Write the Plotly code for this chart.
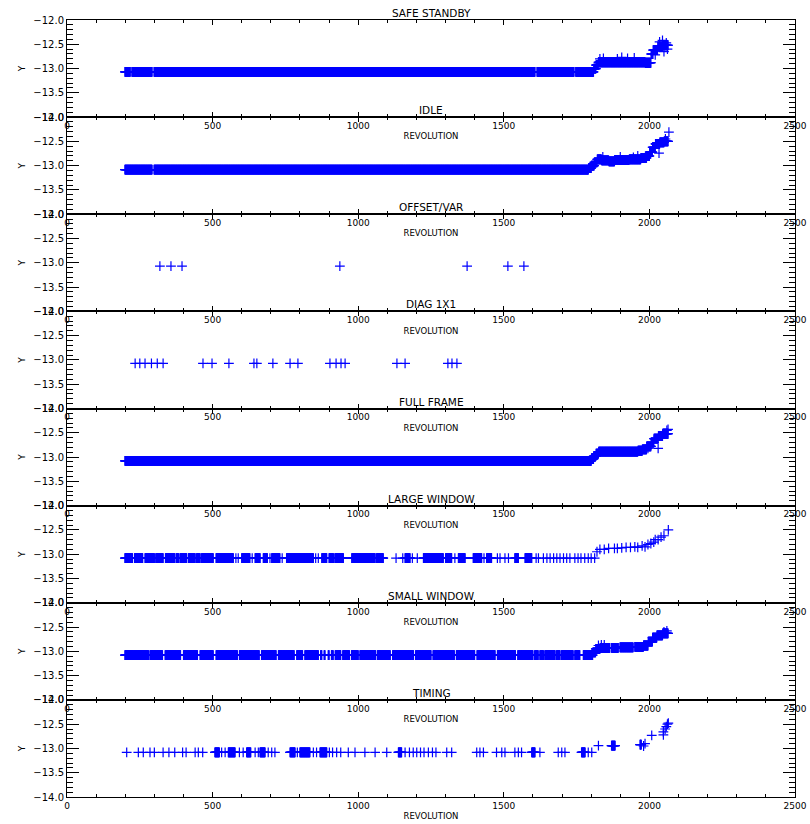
import plotly.graph_objects as go
from plotly.subplots import make_subplots

# ---------------- data (revolution runs: start, end, Y level) ----------------
TITLES = ["SAFE STANDBY", "IDLE", "OFFSET/VAR", "DIAG 1X1",
          "FULL FRAME", "LARGE WINDOW", "SMALL WINDOW", "TIMING"]
X_TICKS = [0, 500, 1000, 1500, 2000, 2500]
Y_TICKS = [-14.0, -13.5, -13.0, -12.5, -12.0]

SAFE_RUNS = [(199, 217, -13.07), (223, 292, -13.07), (299, 1607, -13.07), (1614, 1741, -13.07),
             (1747, 1808, -13.07), (1809, 1816, -13.0), (1817, 1824, -12.93), (1825, 1985, -12.87),
             (1986, 2005, -12.88), (2006, 2012, -12.7), (2013, 2028, -12.62), (2029, 2045, -12.55),
             (2046, 2064, -12.52)]
SAFE_EX_X = [1830, 1842, 1890, 1905, 1925, 1948, 2020, 2035, 2045, 2058, 2050, 2062]
SAFE_EX_Y = [-12.8, -12.79, -12.8, -12.77, -12.79, -12.78, -12.72, -12.45, -12.42, -12.47, -12.65, -12.6]

IDLE_RUNS = [(199, 292, -13.08), (299, 1790, -13.08), (1791, 1800, -13.05), (1801, 1810, -13.0),
             (1811, 1820, -12.93), (1821, 1835, -12.87), (1836, 1860, -12.89), (1861, 1880, -12.91),
             (1881, 1930, -12.88), (1931, 1970, -12.87), (1971, 1990, -12.84), (1991, 2000, -12.8),
             (2001, 2010, -12.72), (2011, 2020, -12.62), (2021, 2035, -12.55), (2036, 2050, -12.52),
             (2051, 2064, -12.5)]
IDLE_EX_X = [2067, 2033, 1840, 1900, 1945, 1960, 2055]
IDLE_EX_Y = [-12.31, -12.74, -12.82, -12.82, -12.83, -12.8, -12.45]

OFFSET_RUNS = [(319, 319, -13.07), (357, 357, -13.07), (395, 395, -13.07), (937, 937, -13.07),
               (1374, 1374, -13.07), (1514, 1514, -13.07), (1569, 1569, -13.07)]
OFFSET_EX_X = []
OFFSET_EX_Y = []

DIAG_RUNS = [(234, 234, -13.07), (250, 250, -13.07), (268, 268, -13.07), (290, 290, -13.07),
             (310, 310, -13.07), (330, 330, -13.07), (467, 467, -13.07), (498, 498, -13.07),
             (556, 556, -13.07), (642, 642, -13.07), (652, 652, -13.07), (707, 707, -13.07),
             (766, 766, -13.07), (793, 793, -13.07), (903, 903, -13.07), (924, 924, -13.07),
             (941, 941, -13.07), (955, 955, -13.07), (1133, 1133, -13.07), (1161, 1161, -13.07),
             (1308, 1308, -13.07), (1322, 1322, -13.07), (1339, 1339, -13.07)]
DIAG_EX_X = []
DIAG_EX_Y = []

FULL_RUNS = [(199, 1800, -13.08), (1801, 1808, -13.04), (1809, 1816, -12.98), (1817, 1825, -12.93),
             (1826, 1960, -12.89), (1961, 1975, -12.87), (1976, 1990, -12.84), (1991, 2005, -12.78),
             (2006, 2015, -12.7), (2016, 2030, -12.62), (2031, 2045, -12.57), (2046, 2064, -12.52)]
FULL_EX_X = [2030, 2060, 2064, 1995]
FULL_EX_Y = [-12.82, -12.45, -12.43, -12.82]

LARGE_RUNS = [(199, 225, -13.08), (232, 260, -13.08), (268, 300, -13.08), (305, 330, -13.08),
              (338, 370, -13.08), (375, 383, -13.08), (388, 411, -13.08), (417, 440, -13.08),
              (445, 457, -13.08), (462, 502, -13.08), (512, 571, -13.08), (580, 580, -13.08),
              (588, 588, -13.08), (600, 628, -13.08), (636, 636, -13.08), (646, 663, -13.08),
              (674, 688, -13.08), (697, 697, -13.08), (703, 731, -13.08), (739, 739, -13.08),
              (754, 846, -13.08), (854, 854, -13.08), (863, 863, -13.08), (875, 892, -13.08),
              (900, 915, -13.08), (920, 949, -13.08), (978, 1058, -13.08), (1063, 1086, -13.08),
              (1130, 1130, -13.08), (1153, 1153, -13.08), (1161, 1178, -13.08), (1186, 1186, -13.08),
              (1203, 1203, -13.08), (1224, 1292, -13.08), (1300, 1321, -13.08), (1332, 1332, -13.08),
              (1344, 1367, -13.08), (1395, 1424, -13.08), (1432, 1432, -13.08), (1441, 1458, -13.08),
              (1478, 1478, -13.08), (1487, 1487, -13.08), (1504, 1504, -13.08), (1516, 1516, -13.08),
              (1538, 1550, -13.08), (1573, 1596, -13.08), (1611, 1611, -13.08), (1619, 1619, -13.08),
              (1636, 1636, -13.08), (1648, 1648, -13.08), (1659, 1659, -13.08), (1671, 1671, -13.08),
              (1682, 1682, -13.08), (1693, 1693, -13.08), (1705, 1705, -13.08), (1716, 1716, -13.08),
              (1727, 1727, -13.08), (1744, 1744, -13.08), (1755, 1755, -13.08), (1765, 1765, -13.08),
              (1778, 1778, -13.08), (1790, 1790, -13.08), (1800, 1800, -13.08), (1812, 1812, -13.08)]
LARGE_EX_X = [1820, 1830, 1845, 1860, 1880, 1890, 1905, 1920, 1935, 1950, 1960, 1975, 1985,
              1995, 2005, 2015, 2020, 2030, 2040, 2050, 2065]
LARGE_EX_Y = [-12.95, -12.9, -12.9, -12.88, -12.88, -12.88, -12.87, -12.86, -12.86, -12.85, -12.86,
              -12.83, -12.85, -12.8, -12.78, -12.75, -12.7, -12.7, -12.65, -12.62, -12.5]

SMALL_RUNS = [(199, 280, -13.08), (285, 328, -13.08), (337, 390, -13.08), (400, 448, -13.08),
              (457, 502, -13.08), (512, 585, -13.08), (592, 660, -13.08), (668, 718, -13.08),
              (726, 780, -13.08), (789, 809, -13.08), (817, 863, -13.08), (871, 875, -13.08),
              (883, 886, -13.08), (897, 900, -13.08), (908, 914, -13.08), (921, 940, -13.08),
              (947, 970, -13.08), (977, 1000, -13.08), (1006, 1060, -13.08), (1066, 1110, -13.08),
              (1118, 1190, -13.08), (1197, 1250, -13.08), (1257, 1330, -13.08), (1337, 1400, -13.08),
              (1408, 1470, -13.08), (1478, 1540, -13.08), (1548, 1600, -13.08), (1606, 1618, -13.08),
              (1624, 1636, -13.08), (1641, 1676, -13.08), (1681, 1693, -13.08), (1698, 1738, -13.08),
              (1744, 1761, -13.08), (1773, 1805, -13.08), (1806, 1815, -13.02), (1816, 1830, -12.95),
              (1831, 1864, -12.93), (1870, 1893, -12.93), (1899, 1944, -12.92), (1950, 1979, -12.91),
              (1980, 1995, -12.88), (1996, 2010, -12.8), (2011, 2025, -12.72), (2026, 2045, -12.67),
              (2046, 2064, -12.63)]
SMALL_EX_X = [1825, 1835, 1845, 2050, 2060]
SMALL_EX_Y = [-12.88, -12.87, -12.87, -12.6, -12.58]

TIMING_RUNS = [(205, 205, -13.08), (245, 245, -13.08), (262, 262, -13.08), (285, 285, -13.08),
               (300, 300, -13.08), (330, 330, -13.08), (350, 350, -13.08), (370, 370, -13.08),
               (397, 397, -13.08), (409, 409, -13.08), (440, 440, -13.08), (451, 451, -13.08),
               (466, 466, -13.08), (508, 523, -13.08), (531, 531, -13.08), (543, 543, -13.08),
               (554, 577, -13.08), (592, 592, -13.08), (605, 605, -13.08), (617, 631, -13.08),
               (646, 646, -13.08), (657, 657, -13.08), (663, 680, -13.08), (691, 691, -13.08),
               (703, 703, -13.08), (714, 714, -13.08), (766, 783, -13.08), (791, 791, -13.08),
               (800, 834, -13.08), (846, 846, -13.08), (857, 857, -13.08), (869, 892, -13.08),
               (901, 901, -13.08), (912, 912, -13.08), (926, 926, -13.08), (940, 940, -13.08),
               (966, 966, -13.08), (989, 989, -13.08), (1023, 1023, -13.08), (1058, 1058, -13.08),
               (1098, 1098, -13.08), (1138, 1149, -13.08), (1161, 1161, -13.08), (1176, 1176, -13.08),
               (1189, 1189, -13.08), (1201, 1201, -13.08), (1214, 1214, -13.08), (1226, 1226, -13.08),
               (1241, 1241, -13.08), (1255, 1255, -13.08), (1267, 1267, -13.08), (1304, 1304, -13.08),
               (1321, 1321, -13.08), (1407, 1407, -13.08), (1418, 1418, -13.08), (1430, 1430, -13.08),
               (1475, 1475, -13.08), (1493, 1493, -13.08), (1504, 1504, -13.08), (1538, 1538, -13.08),
               (1550, 1550, -13.08), (1561, 1561, -13.08), (1596, 1607, -13.08), (1624, 1624, -13.08),
               (1687, 1687, -13.08), (1699, 1699, -13.08), (1710, 1710, -13.08), (1767, 1779, -13.08),
               (1790, 1790, -13.08), (1802, 1802, -13.08), (1870, 1882, -12.94), (1968, 1972, -12.92)]
TIMING_EX_X = [1825, 1980, 1985, 2008, 2048, 2048, 2054, 2058, 2062, 2065]
TIMING_EX_Y = [-12.94, -12.95, -12.9, -12.73, -12.66, -12.72, -12.6, -12.55, -12.5, -12.48]

PANELS = [(TITLES[0], SAFE_RUNS, SAFE_EX_X, SAFE_EX_Y),
          (TITLES[1], IDLE_RUNS, IDLE_EX_X, IDLE_EX_Y),
          (TITLES[2], OFFSET_RUNS, OFFSET_EX_X, OFFSET_EX_Y),
          (TITLES[3], DIAG_RUNS, DIAG_EX_X, DIAG_EX_Y),
          (TITLES[4], FULL_RUNS, FULL_EX_X, FULL_EX_Y),
          (TITLES[5], LARGE_RUNS, LARGE_EX_X, LARGE_EX_Y),
          (TITLES[6], SMALL_RUNS, SMALL_EX_X, SMALL_EX_Y),
          (TITLES[7], TIMING_RUNS, TIMING_EX_X, TIMING_EX_Y)]

BLUE = "#0000ff"
FONT = "DejaVu Sans"

fig = make_subplots(rows=8, cols=1, vertical_spacing=0)

for i, (title, runs, ex_x, ex_y) in enumerate(PANELS):
    xs, ys = [], []
    for a, b, v in runs:
        for r in range(a, b + 1):   # one observation per revolution in the run
            xs.append(r)
            ys.append(v)
    xs += ex_x
    ys += ex_y
    fig.add_trace(go.Scatter(
        x=xs, y=ys, mode="markers", showlegend=False, hoverinfo="skip",
        marker=dict(symbol="cross-thin", size=7, color=BLUE,
                    line=dict(width=1.2, color=BLUE))), row=i + 1, col=1)
    fig.add_annotation(text=title, x=0.5, xref="paper", xanchor="center",
                       y=1 - i / 8, yref="paper", yanchor="middle", yshift=7,
                       showarrow=False, font=dict(family=FONT, size=10.5, color="black"))

fig.update_xaxes(
    range=[0, 2500], tickvals=X_TICKS, ticks="inside", ticklen=5, tickwidth=1,
    tickcolor="black", showline=True, linecolor="black", linewidth=1, mirror="ticks",
    showgrid=False, zeroline=False,
    minor=dict(ticks="inside", dtick=100, tick0=0, ticklen=3, tickcolor="black", showgrid=False),
    tickfont=dict(family=FONT, size=9, color="black"),
    title=dict(text="REVOLUTION", font=dict(family=FONT, size=8.5, color="black"), standoff=3))

fig.update_yaxes(
    range=[-14, -12], tickvals=Y_TICKS, tickformat=".1f", ticks="inside", ticklen=12,
    tickwidth=1, tickcolor="black", showline=True, linecolor="black", linewidth=1,
    mirror="ticks", showgrid=False, zeroline=False,
    minor=dict(ticks="inside", dtick=0.1, tick0=-14, ticklen=6, tickcolor="black", showgrid=False),
    tickfont=dict(family=FONT, size=10, color="black"),
    title=dict(text="Y", font=dict(family=FONT, size=9, color="black"), standoff=6))

fig.update_layout(
    width=810, height=824, template="none",
    margin=dict(l=67, r=15, t=20, b=27),
    paper_bgcolor="white", plot_bgcolor="white",
    font=dict(family=FONT, color="black"))

# place the figure at the very top-left of the page (no default body margin)
fig.write_html("out.html", config={"displayModeBar": False},
               post_script="document.body.style.margin='0';document.body.style.overflow='hidden';")
